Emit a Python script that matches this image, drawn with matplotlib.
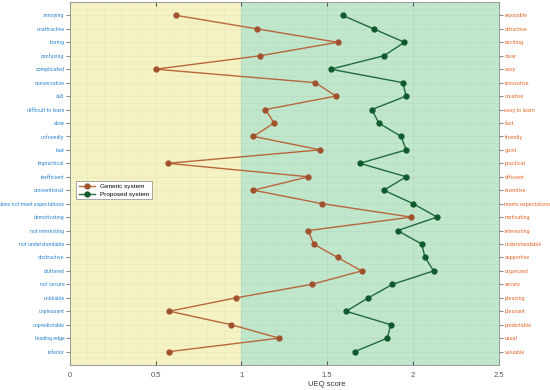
import matplotlib
matplotlib.use("Agg")
import matplotlib.pyplot as plt
from matplotlib.ticker import MultipleLocator
from matplotlib import font_manager
import numpy as np

left_labels = ["annoying", "unattractive", "boring", "confusing", "complicated",
               "conservative", "dull", "difficult to learn", "slow", "unfriendly",
               "bad", "impractical", "inefficient", "conventional",
               "does not meet expectations", "demotivating", "not interesting",
               "not understandable", "obstructive", "cluttered", "not secure",
               "unlikable", "unpleasant", "unpredictable", "leading edge", "inferior"]
right_labels = ["enjoyable", "attractive", "exciting", "clear", "easy", "innovative",
                "creative", "easy to learn", "fast", "friendly", "good", "practical",
                "efficient", "inventive", "meets expectations", "motivating",
                "interesting", "understandable", "supportive", "organized", "secure",
                "pleasing", "pleasant", "predictable", "usual", "valuable"]
generic = [0.62, 1.09, 1.56, 1.11, 0.50, 1.43, 1.55, 1.14, 1.19, 1.07, 1.46, 0.57,
           1.39, 1.07, 1.47, 1.99, 1.39, 1.42, 1.56, 1.70, 1.41, 0.97, 0.58, 0.94,
           1.22, 0.58]
proposed = [1.59, 1.77, 1.95, 1.83, 1.52, 1.94, 1.96, 1.76, 1.80, 1.93, 1.96, 1.69,
            1.96, 1.83, 2.00, 2.14, 1.91, 2.05, 2.07, 2.12, 1.88, 1.74, 1.61, 1.87,
            1.85, 1.66]

names = {f.name for f in font_manager.fontManager.ttflist}
cands = ["Liberation Sans Narrow", "Arial Narrow", "Roboto Condensed",
         "Archivo Narrow", "PT Sans Narrow", "Open Sans Condensed", "Liberation Sans"]
label_fam = next(c for c in cands if c in names or c == "Liberation Sans")
plt.rcParams["font.family"] = ["Liberation Sans", "DejaVu Sans"]

n = len(left_labels)
ypos = np.arange(1, n + 1)

fig = plt.figure(figsize=(5.5, 3.9), dpi=100)
ax = fig.add_axes([0.127, 0.064, 0.780, 0.931])
ax.axvspan(0, 1, color="#f5f3c3", zorder=0)
ax.axvspan(1, 2.5, color="#c0e6cc", zorder=0)

ax.plot(generic, ypos, "-o", color="#b8673a", mfc="#a0522d", mec="#a0522d",
        lw=1.0, ms=3.5, label="Generic system", zorder=3)
ax.plot(proposed, ypos, "-o", color="#1f6b3c", mfc="#0f5a2c", mec="#0f5a2c",
        lw=1.0, ms=3.5, label="Proposed system", zorder=3)

ax.set_xlim(0, 2.5)
ax.set_ylim(n + 1, 0)
ax.set_xticks([0, 0.5, 1, 1.5, 2, 2.5])
ax.set_xticklabels(["0", "0.5", "1", "1.5", "2", "2.5"])
ax.xaxis.set_minor_locator(MultipleLocator(0.1))
ax.tick_params(axis="x", which="major", labelsize=5.5, colors="#555555",
               direction="in", length=3, top=True, bottom=True, pad=5)
ax.tick_params(axis="x", which="minor", length=0)

renderer = fig.canvas.get_renderer()
def fit_size(labels, avail, start):
    w = 1e-6
    for lab in labels:
        t = fig.text(0, 0, lab, fontsize=start, family=label_fam)
        w = max(w, t.get_window_extent(renderer).width)
        t.remove()
    return min(start, start * avail / w)

size_l = fit_size(left_labels, 66, 6.6)
size_r = fit_size(right_labels, 48, 6.6)

ax.set_yticks(ypos)
ax.set_yticklabels(left_labels, fontsize=size_l, color="#3b8ed6", family=label_fam)
ax.yaxis.set_minor_locator(MultipleLocator(0.5))
ax.tick_params(axis="y", which="major", length=3, color="#888888", pad=1)
ax.tick_params(axis="y", which="minor", length=0)
ax.grid(True, which="major", color="#999999", alpha=0.15, lw=0.5)
ax.grid(True, which="minor", color="#999999", alpha=0.10, lw=0.4)

ax2 = ax.twinx()
ax2.set_ylim(ax.get_ylim())
ax2.set_yticks(ypos)
ax2.set_yticklabels(right_labels, fontsize=size_r, color="#e8743b", family=label_fam)
ax2.tick_params(axis="y", length=3, color="#888888", pad=1)

for a in (ax, ax2):
    for s in a.spines.values():
        s.set_color("#999999")
        s.set_linewidth(0.6)

ax.set_xlabel("UEQ score", fontsize=5.5, color="#333333")
ax.xaxis.set_label_coords(0.6, -0.045)

leg = ax.legend(loc="upper left", bbox_to_anchor=(0.008, 0.516), fontsize=4.6,
                frameon=True, fancybox=False, edgecolor="#888888",
                framealpha=1, handlelength=2.5, borderpad=0.4, labelspacing=0.4)
leg.get_frame().set_linewidth(0.5)

fig.savefig("out.png", dpi=100)
